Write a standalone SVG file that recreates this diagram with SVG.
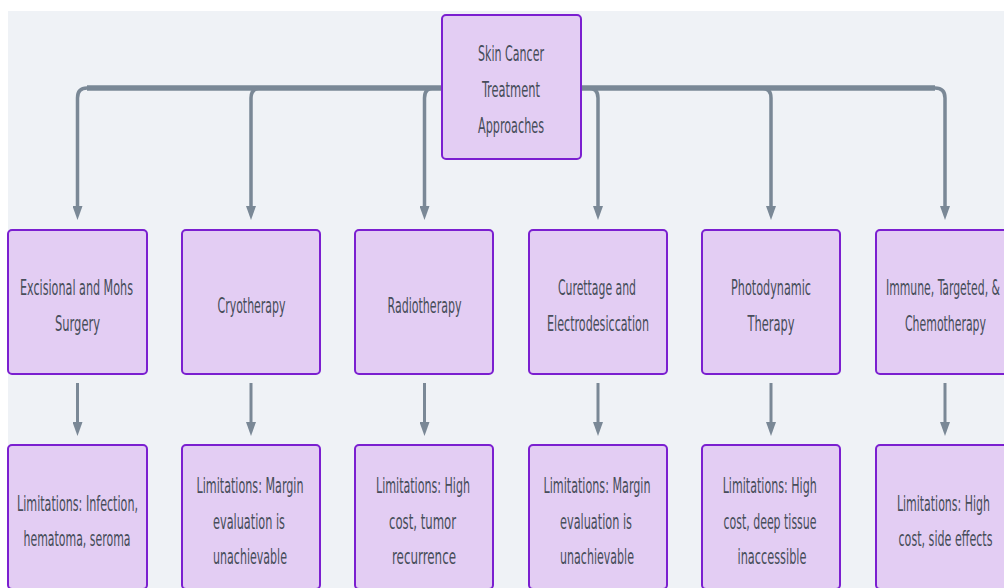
<svg xmlns="http://www.w3.org/2000/svg" width="1004" height="588" viewBox="0 0 1004 588">
<defs>
<style>
.bg{fill:#eff2f6}
.box{fill:#e3cdf3;stroke:#7b1fd0;stroke-width:2}
.t{font-family:"DejaVu Sans Condensed","DejaVu Sans",sans-serif;font-stretch:condensed;font-size:22px;fill:#474d5a;text-anchor:middle}
.c{fill:none;stroke:#7a8896;stroke-width:3.5}
.trunk{fill:none;stroke:#7a8896;stroke-width:5.5}
.v{fill:none;stroke:#7a8896;stroke-width:3}
</style>
<marker id="arr" viewBox="0 0 14 10" markerWidth="14" markerHeight="10" refX="0" refY="5" orient="auto" markerUnits="userSpaceOnUse">
<path d="M0,0 L14,5 L0,10 z" fill="#7a8896"/>
</marker>
</defs>
<rect class="bg" x="8" y="11" width="996" height="577"/>
<g id="connectors">
<path class="trunk" d="M442,88 H87"/>
<path class="trunk" d="M581,88 H935"/>
<path class="c" d="M442,88 H87 Q77.5,88 77.5,98 V206" marker-end="url(#arr)"/>
<path class="c" d="M442,88 H261 Q251,88 251,98 V206" marker-end="url(#arr)"/>
<path class="c" d="M442,88 H434 Q424.5,88 424.5,98 V206" marker-end="url(#arr)"/>
<path class="c" d="M581,88 H588 Q598,88 598,98 V206" marker-end="url(#arr)"/>
<path class="c" d="M581,88 H761 Q771,88 771,98 V206" marker-end="url(#arr)"/>
<path class="c" d="M581,88 H935 Q945,88 945,98 V206" marker-end="url(#arr)"/>
<path class="v" d="M77.5,383 V422" marker-end="url(#arr)"/>
<path class="v" d="M251,383 V422" marker-end="url(#arr)"/>
<path class="v" d="M424.5,383 V422" marker-end="url(#arr)"/>
<path class="v" d="M598,383 V422" marker-end="url(#arr)"/>
<path class="v" d="M771,383 V422" marker-end="url(#arr)"/>
<path class="v" d="M945,383 V422" marker-end="url(#arr)"/>
</g>
<g id="root">
<rect class="box" x="442" y="15" width="139" height="144" rx="4"/>
<text class="t"><tspan x="511" y="61" textLength="66" lengthAdjust="spacingAndGlyphs">Skin Cancer</tspan><tspan x="511" y="97" textLength="58" lengthAdjust="spacingAndGlyphs">Treatment</tspan><tspan x="511" y="133" textLength="66" lengthAdjust="spacingAndGlyphs">Approaches</tspan></text>
</g>
<g id="surgery">
<rect class="box" x="8" y="230" width="139" height="144" rx="4"/>
<text class="t"><tspan x="76.5" y="294.5" textLength="113" lengthAdjust="spacingAndGlyphs">Excisional and Mohs</tspan><tspan x="77.5" y="330.5" textLength="45" lengthAdjust="spacingAndGlyphs">Surgery</tspan></text>
</g>
<g id="cryotherapy">
<rect class="box" x="182" y="230" width="138" height="144" rx="4"/>
<text class="t" x="251.5" y="312.5" textLength="68" lengthAdjust="spacingAndGlyphs">Cryotherapy</text>
</g>
<g id="radiotherapy">
<rect class="box" x="355" y="230" width="138" height="144" rx="4"/>
<text class="t" x="424.5" y="312.5" textLength="74" lengthAdjust="spacingAndGlyphs">Radiotherapy</text>
</g>
<g id="curettage">
<rect class="box" x="529" y="230" width="138" height="144" rx="4"/>
<text class="t"><tspan x="597" y="294.5" textLength="78" lengthAdjust="spacingAndGlyphs">Curettage and</tspan><tspan x="598" y="330.5" textLength="102" lengthAdjust="spacingAndGlyphs">Electrodesiccation</tspan></text>
</g>
<g id="photodynamic">
<rect class="box" x="702" y="230" width="138" height="144" rx="4"/>
<text class="t"><tspan x="771" y="294.5" textLength="80" lengthAdjust="spacingAndGlyphs">Photodynamic</tspan><tspan x="771" y="330.5" textLength="47" lengthAdjust="spacingAndGlyphs">Therapy</tspan></text>
</g>
<g id="immune">
<rect class="box" x="876" y="230" width="139" height="144" rx="4"/>
<text class="t"><tspan x="943" y="294.5" textLength="114" lengthAdjust="spacingAndGlyphs">Immune, Targeted, &amp;</tspan><tspan x="945.5" y="330.5" textLength="81" lengthAdjust="spacingAndGlyphs">Chemotherapy</tspan></text>
</g>
<g id="lim-surgery">
<rect class="box" x="8" y="445" width="139" height="144" rx="4"/>
<text class="t"><tspan x="77.5" y="510.5" textLength="121" lengthAdjust="spacingAndGlyphs">Limitations: Infection,</tspan><tspan x="77" y="545.5" textLength="107" lengthAdjust="spacingAndGlyphs">hematoma, seroma</tspan></text>
</g>
<g id="lim-cryotherapy">
<rect class="box" x="182" y="445" width="138" height="144" rx="4"/>
<text class="t"><tspan x="250" y="492.5" textLength="107" lengthAdjust="spacingAndGlyphs">Limitations: Margin</tspan><tspan x="249" y="528.5" textLength="72" lengthAdjust="spacingAndGlyphs">evaluation is</tspan><tspan x="250" y="564" textLength="74" lengthAdjust="spacingAndGlyphs">unachievable</tspan></text>
</g>
<g id="lim-radiotherapy">
<rect class="box" x="355" y="445" width="138" height="144" rx="4"/>
<text class="t"><tspan x="423" y="492.5" textLength="94" lengthAdjust="spacingAndGlyphs">Limitations: High</tspan><tspan x="422.5" y="528.5" textLength="67" lengthAdjust="spacingAndGlyphs">cost, tumor</tspan><tspan x="424" y="564" textLength="64" lengthAdjust="spacingAndGlyphs">recurrence</tspan></text>
</g>
<g id="lim-curettage">
<rect class="box" x="529" y="445" width="138" height="144" rx="4"/>
<text class="t"><tspan x="597" y="492.5" textLength="107" lengthAdjust="spacingAndGlyphs">Limitations: Margin</tspan><tspan x="596" y="528.5" textLength="72" lengthAdjust="spacingAndGlyphs">evaluation is</tspan><tspan x="597" y="564" textLength="74" lengthAdjust="spacingAndGlyphs">unachievable</tspan></text>
</g>
<g id="lim-photodynamic">
<rect class="box" x="702" y="445" width="138" height="144" rx="4"/>
<text class="t"><tspan x="769.7" y="492.5" textLength="94" lengthAdjust="spacingAndGlyphs">Limitations: High</tspan><tspan x="770" y="528.5" textLength="93" lengthAdjust="spacingAndGlyphs">cost, deep tissue</tspan><tspan x="772" y="564" textLength="69" lengthAdjust="spacingAndGlyphs">inaccessible</tspan></text>
</g>
<g id="lim-immune">
<rect class="box" x="876" y="445" width="139" height="144" rx="4"/>
<text class="t"><tspan x="943.4" y="510.5" textLength="93" lengthAdjust="spacingAndGlyphs">Limitations: High</tspan><tspan x="945.5" y="545.5" textLength="94" lengthAdjust="spacingAndGlyphs">cost, side effects</tspan></text>
</g>
</svg>
